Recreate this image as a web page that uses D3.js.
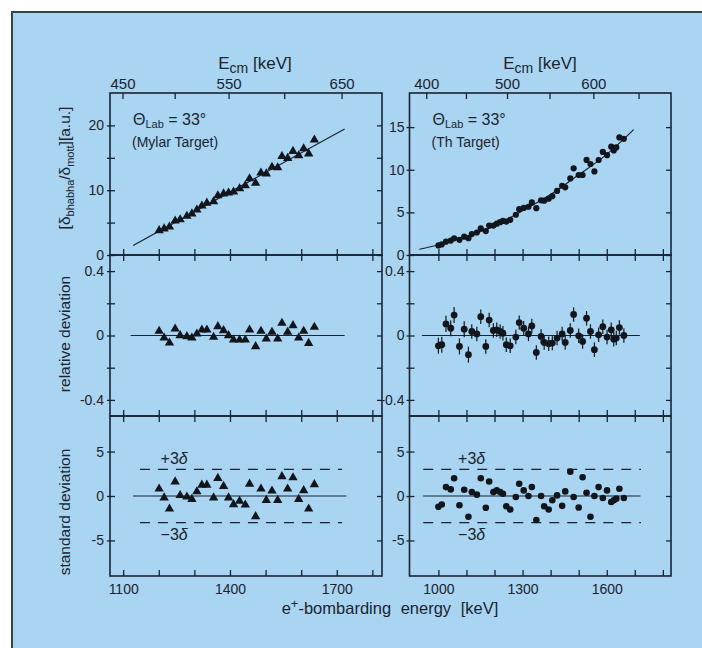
<!DOCTYPE html>
<html><head><meta charset="utf-8">
<script src="https://cdn.jsdelivr.net/npm/d3@7"></script>
<style>
html,body{margin:0;padding:0;background:#fff;}
svg{display:block;}
</style></head><body>
<svg id="chart" width="702" height="648"></svg>
<script>
// ---------------- DATA ----------------
// Mylar target (left column), lab energy in keV
const mylarE = [1201,1215,1230,1246,1260,1279,1293,1307,1321,1335,1354,1366,1382,1396,1410,1427,1443,1455,1472,1487,1502,1518,1534,1546,1562,1577,1593,1607,1621,1637];
const mylarRatio = [3.79,4.05,4.35,5.26,5.47,6.01,6.37,6.97,7.58,8.02,8.24,9.17,9.45,9.59,9.75,10.25,10.72,11.78,11.09,12.68,12.54,13.57,13.49,15.23,14.93,16.01,15.33,16.42,15.62,17.78];
const mylarRelDev = [0.027,-0.015,-0.046,0.041,0.0,-0.006,-0.015,0.010,0.035,0.035,-0.010,0.056,0.031,0.0,-0.027,-0.027,-0.027,0.035,-0.068,0.027,-0.021,0.021,-0.021,0.077,0.021,0.062,-0.015,0.027,-0.048,0.052];
const mylarStdDev = [0.8,-0.2,-1.45,1.6,0.07,-0.1,-0.36,0.5,1.24,1.24,-0.2,2.0,1.1,-0.2,-0.95,-0.58,-1.0,1.35,-2.3,0.8,-0.47,0.58,-0.47,2.2,0.8,2.07,-0.36,0.62,-1.45,1.3];
const mylarTheoryE = [1128,1722];
const mylarTheoryRatio = [1.47,19.45];
const mylarZeroMid = [1121,1722];
const mylarZeroStd = [1128,1727];
const mylarBand = [1147,1715];

// Th target (right column)
const thE = [1000,1012,1027,1044,1056,1075,1092,1107,1119,1137,1151,1169,1181,1196,1208,1220,1230,1242,1256,1276,1288,1304,1321,1333,1349,1366,1377,1393,1406,1423,1441,1452,1470,1482,1500,1514,1528,1542,1556,1571,1586,1601,1616,1625,1634,1645,1661];
const thRatio = [1.12,1.24,1.56,1.69,1.95,1.78,2.15,1.97,2.45,2.64,3.12,2.81,3.46,3.45,3.67,3.85,4.0,3.92,4.13,4.72,5.38,5.52,5.66,6.17,5.49,6.41,6.37,6.61,6.90,7.51,8.12,7.94,8.98,10.17,9.38,9.38,11.15,10.67,9.80,11.14,12.09,11.71,12.71,12.26,12.62,13.79,13.63];
const thRelDev = [-0.064,-0.057,0.072,0.045,0.127,-0.068,0.039,-0.119,0.025,0.010,0.117,-0.068,0.096,0.031,0.035,0.025,0.014,-0.057,-0.064,-0.010,0.080,0.045,0.010,0.059,-0.105,-0.006,-0.043,-0.051,-0.047,-0.016,0.010,-0.043,0.031,0.131,-0.002,-0.037,0.107,0.025,-0.088,0.004,0.055,-0.010,0.035,-0.023,-0.016,0.049,0.0];
const thRelErr = [0.05,0.05,0.05,0.05,0.05,0.05,0.05,0.05,0.045,0.045,0.045,0.045,0.045,0.045,0.045,0.045,0.045,0.045,0.045,0.045,0.045,0.045,0.045,0.045,0.045,0.045,0.045,0.045,0.045,0.045,0.045,0.045,0.045,0.045,0.045,0.045,0.045,0.045,0.045,0.045,0.045,0.045,0.045,0.045,0.045,0.045,0.045];
const thStdDev = [-1.22,-0.96,1.0,0.74,2.0,-1.04,0.70,-2.33,0.44,0.15,2.0,-1.33,1.63,0.44,0.63,0.44,0.26,-1.15,-1.52,-0.11,1.37,0.63,0.0,1.0,-2.7,0.0,-1.15,-1.52,-0.48,0.07,-1.11,0.52,2.74,-0.11,-1.3,2.11,0.37,-2.33,0.0,1.0,-0.22,0.63,-0.67,-0.48,-0.3,0.81,-0.22];
const thTheoryE = [932,1000,1100,1200,1300,1400,1500,1600,1696];
const thTheoryRatio = [0.67,1.2,2.15,3.4,5.2,7.1,9.4,11.8,14.7];
const thZeroMid = [941,1718];
const thZeroStd = [946,1720];
const thBand = [946,1722];

// Ticks
const mylarLabTicks = [1100,1200,1300,1400,1500,1600,1700,1800];
const mylarLabLabels = [1100,1400,1700];
const thLabTicks = [1000,1100,1200,1300,1400,1500,1600,1700,1800];
const thLabLabels = [1000,1300,1600];
const mylarEcmTicks = [450,500,550,600,650];
const mylarEcmLabels = [450,550,650];
const thEcmTicks = [400,450,500,550,600,650];
const thEcmLabels = [400,500,600];
const mylarRatioTicks = [0,5,10,15,20];
const mylarRatioLabels = [0,10,20];
const thRatioTicks = [0,5,10,15];
const thRatioLabels = [0,5,10,15];
const devTicks = [-0.4,-0.2,0,0.2,0.4];
const devLabels = [-0.4,0,0.4];
const sigTicks = [-5,0,5];
const sigLabels = [-5,0,5];
const sigmaBand = [-3,3];

// ---------------- DRAW ----------------
const INK = "#1a2430";
const FONT = "'Liberation Sans', Arial, sans-serif";
const ELECTRON_MASS = 511; // keV
const ecmToLab = e => (e + 2*ELECTRON_MASS)*(e + 2*ELECTRON_MASS)/(2*ELECTRON_MASS) - 2*ELECTRON_MASS;

const svg = d3.select("#chart");
svg.append("rect").attr("width",702).attr("height",648).attr("fill","#fff");
svg.append("rect").attr("x",12).attr("y",12).attr("width",700).attr("height",650)
  .attr("fill","#a9d5f2").attr("stroke","#3c4148").attr("stroke-width",2);

const rowY = {top:[93,255], mid:[255,416], bot:[416,576]};
const fmtDev = d => d === 0 ? "0" : (d < 0 ? "-" : "") + Math.abs(d).toFixed(1);

function styleAxis(a, size) {
  a.select(".domain").remove();
  a.attr("font-family", FONT).attr("font-size", size || 14);
  a.selectAll("line").attr("stroke", INK).attr("stroke-width", 1.3);
  a.selectAll("text").attr("fill", INK);
  return a;
}

function drawColumn(c) {
  const g = svg.append("g");
  const x = d3.scaleLinear().domain(c.xDomain).range([c.x0, c.x1]);
  const yTop = d3.scaleLinear().domain(c.ratioDomain).range([rowY.top[1], rowY.top[0]]);
  const yMid = d3.scaleLinear().domain([-0.5,0.5]).range([rowY.mid[1], rowY.mid[0]]);
  const yBot = d3.scaleLinear().domain([-9,9]).range([rowY.bot[1], rowY.bot[0]]);

  const rows = [
    {key:"top", y:yTop, ticks:c.ratioTicks, labels:c.ratioLabels, fmt:d=>String(d)},
    {key:"mid", y:yMid, ticks:devTicks, labels:devLabels, fmt:fmtDev},
    {key:"bot", y:yBot, ticks:sigTicks, labels:sigLabels, fmt:d=>String(d)}
  ];
  rows.forEach(r => {
    const [y0,y1] = rowY[r.key];
    styleAxis(g.append("g").attr("transform",`translate(${c.x0},0)`)
      .call(d3.axisLeft(r.y).tickValues(r.ticks).tickSize(-5).tickPadding(c.labelPad)
        .tickFormat(d => r.labels.includes(d) ? r.fmt(d) : "")), 14);
    styleAxis(g.append("g").attr("transform",`translate(${c.x0},0)`)
      .call(d3.axisLeft(r.y).tickValues(r.ticks).tickSize(3).tickFormat("")));
    styleAxis(g.append("g").attr("transform",`translate(${c.x1},0)`)
      .call(d3.axisRight(r.y).tickValues(r.ticks).tickSize(-5).tickFormat("")));
    styleAxis(g.append("g").attr("transform",`translate(0,${y1})`)
      .call(d3.axisBottom(x).tickValues(c.labTicks).tickSize(-6).tickPadding(8)
        .tickFormat(d => (r.key === "bot" && c.labLabels.includes(d)) ? d : "")), 14);
    if (r.key === "top") {
      styleAxis(g.append("g").attr("transform",`translate(0,${y0})`)
        .call(d3.axisTop(x).tickValues(c.ecmTicks.map(ecmToLab)).tickSize(-6).tickPadding(4)
          .tickFormat((d,i) => c.ecmLabels.includes(c.ecmTicks[i]) ? c.ecmTicks[i] : "")), 15);
    } else {
      styleAxis(g.append("g").attr("transform",`translate(0,${y0})`)
        .call(d3.axisTop(x).tickValues(c.labTicks).tickSize(-6).tickFormat("")));
    }
    g.append("rect").attr("x",c.x0).attr("y",y0).attr("width",c.x1-c.x0).attr("height",y1-y0)
      .attr("fill","none").attr("stroke",INK).attr("stroke-width",1.6);
  });

  const line = d3.line().x(d=>x(d[0])).y(d=>yTop(d[1])).curve(d3.curveMonotoneX);
  g.append("path").datum(c.theoryE.map((e,i)=>[e,c.theoryR[i]]))
    .attr("d",line).attr("fill","none").attr("stroke",INK).attr("stroke-width",1.2);
  g.append("line").attr("x1",x(c.zeroMid[0])).attr("x2",x(c.zeroMid[1]))
    .attr("y1",yMid(0)).attr("y2",yMid(0)).attr("stroke",INK).attr("stroke-width",1.2);
  g.append("line").attr("x1",x(c.zeroStd[0])).attr("x2",x(c.zeroStd[1]))
    .attr("y1",yBot(0)).attr("y2",yBot(0)).attr("stroke",INK).attr("stroke-width",1.2);
  sigmaBand.forEach(s => {
    g.append("line").attr("x1",x(c.band[0])).attr("x2",x(c.band[1]))
      .attr("y1",yBot(s)).attr("y2",yBot(s)).attr("stroke",INK).attr("stroke-width",1.1)
      .attr("stroke-dasharray","10,8");
  });

  const MARK = "#11161c";
  if (c.marker === "triangle") {
    const sym = d3.symbol().type(d3.symbolTriangle).size(38);
    const put = (vals, y) => g.append("g").selectAll("path").data(c.E).join("path")
      .attr("d", sym).attr("fill", MARK)
      .attr("transform",(d,i)=>`translate(${x(d)},${y(vals[i])})`);
    put(c.ratio, yTop); put(c.rel, yMid); put(c.std, yBot);
  } else {
    const put = (vals, y, r) => g.append("g").selectAll("circle").data(c.E).join("circle")
      .attr("cx", d=>x(d)).attr("cy",(d,i)=>y(vals[i])).attr("r", r).attr("fill", MARK);
    g.append("g").selectAll("line").data(c.E).join("line")
      .attr("x1",d=>x(d)).attr("x2",d=>x(d))
      .attr("y1",(d,i)=>yMid(c.rel[i]-c.relErr[i])).attr("y2",(d,i)=>yMid(c.rel[i]+c.relErr[i]))
      .attr("stroke",MARK).attr("stroke-width",1.2);
    put(c.ratio, yTop, 3.1); put(c.rel, yMid, 3.4); put(c.std, yBot, 3.3);
  }

  const t1 = g.append("text").attr("x",c.x0+23).attr("y",125).attr("font-family",FONT)
    .attr("font-size",16).attr("fill",INK);
  t1.append("tspan").text("Θ");
  t1.append("tspan").attr("font-size",11).attr("dy",3).text("Lab");
  t1.append("tspan").attr("dy",-3).text(" = 33°");
  g.append("text").attr("x",c.x0+22).attr("y",147).attr("font-family",FONT)
    .attr("font-size",14).attr("fill",INK).text(c.target);

  const lbl = (txt, yy) => {
    const t = g.append("text").attr("x",x(c.bandLabelE)).attr("y",yy).attr("font-family",FONT)
      .attr("font-size",16).attr("fill",INK);
    t.append("tspan").text(txt);
    t.append("tspan").attr("font-style","italic").text("δ");
  };
  lbl("+3", yBot(sigmaBand[1]) - 5);
  lbl("−3", yBot(sigmaBand[0]) + 17);

  const et = g.append("text").attr("x",c.titleX).attr("y",69).attr("text-anchor","middle")
    .attr("font-family",FONT).attr("font-size",17).attr("fill",INK);
  et.append("tspan").text("E");
  et.append("tspan").attr("font-size",14).attr("dy",4).text("cm");
  et.append("tspan").attr("dy",-4).text(" [keV]");
}

drawColumn({
  x0:110, x1:382, xDomain:[1063,1827], ratioDomain:[0,25], labelPad:6,
  labTicks:mylarLabTicks, labLabels:mylarLabLabels, ecmTicks:mylarEcmTicks, ecmLabels:mylarEcmLabels,
  ratioTicks:mylarRatioTicks, ratioLabels:mylarRatioLabels,
  E:mylarE, ratio:mylarRatio, rel:mylarRelDev, std:mylarStdDev,
  theoryE:mylarTheoryE, theoryR:mylarTheoryRatio,
  zeroMid:mylarZeroMid, zeroStd:mylarZeroStd, band:mylarBand, bandLabelE:1205,
  marker:"triangle", target:"(Mylar Target)", titleX:255
});
drawColumn({
  x0:409.5, x1:671, xDomain:[897,1829], ratioDomain:[0,19], labelPad:5,
  labTicks:thLabTicks, labLabels:thLabLabels, ecmTicks:thEcmTicks, ecmLabels:thEcmLabels,
  ratioTicks:thRatioTicks, ratioLabels:thRatioLabels,
  E:thE, ratio:thRatio, rel:thRelDev, relErr:thRelErr, std:thStdDev,
  theoryE:thTheoryE, theoryR:thTheoryRatio,
  zeroMid:thZeroMid, zeroStd:thZeroStd, band:thBand, bandLabelE:1070,
  marker:"circle", target:"(Th Target)", titleX:540
});

function vtitle(cy, build) {
  const t = svg.append("text").attr("transform",`translate(70,${cy}) rotate(-90)`)
    .attr("text-anchor","middle").attr("font-family",FONT).attr("font-size",15.5).attr("fill",INK);
  build(t);
}
vtitle(168, t => {
  t.append("tspan").text("[δ");
  t.append("tspan").attr("font-size",11).attr("dy",4).text("bhabha");
  t.append("tspan").attr("dy",-4).text("/δ");
  t.append("tspan").attr("font-size",11).attr("dy",4).text("mott");
  t.append("tspan").attr("dy",-4).text("][a.u.]");
});
vtitle(334, t => t.text("relative deviation"));
vtitle(512, t => t.text("standard deviation"));

const xt = svg.append("text").attr("x",390).attr("y",614).attr("text-anchor","middle")
  .attr("font-family",FONT).attr("font-size",16.5).attr("fill",INK).attr("word-spacing",5);
xt.append("tspan").text("e");
xt.append("tspan").attr("font-size",13).attr("dy",-6).text("+");
xt.append("tspan").attr("dy",6).text("-bombarding energy [keV]");
</script>
</body></html>
